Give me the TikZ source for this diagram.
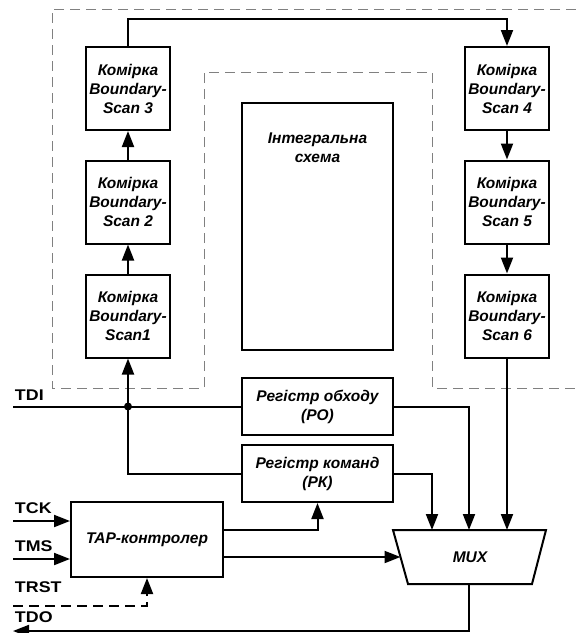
\documentclass[tikz,border=0pt]{standalone}
\usepackage{fontspec}
\setmainfont{Liberation Sans}
\newfontfamily\lblfont[FakeStretch=1.15]{Liberation Sans}
\usetikzlibrary{arrows.meta}
\begin{document}
\begin{tikzpicture}[x=1pt,y=-1pt, line width=2pt,
 box/.style={draw, line width=2pt, align=center, inner sep=0pt, font=\bfseries\itshape\fontsize{15.5}{19}\selectfont},
 txt/.style={align=center, inner sep=0pt, font=\bfseries\itshape\fontsize{15.5}{19}\selectfont},
 arr/.style={-{Triangle[length=16pt,width=12pt]}},
 lbl/.style={font=\lblfont\bfseries\fontsize{15.5}{16}\selectfont, inner sep=0pt, anchor=base west},
 chip/.style={dash pattern=on 10pt off 6pt, gray, line width=1pt}]
\useasboundingbox (0,0) rectangle (576,633);
% chip boundary
\draw[chip] (576,9) -- (52,9) -- (52,388) -- (204,388) -- (204,72) -- (432,72) -- (432,388) -- (576,388);
% cells
\node[box, minimum width=84pt, minimum height=83pt] (c3) at (128,88.5) {Комірка\\Boundary-\\Scan 3};
\node[box, minimum width=84pt, minimum height=83pt] (c2) at (128,202) {Комірка\\Boundary-\\Scan 2};
\node[box, minimum width=84pt, minimum height=83pt] (c1) at (128,316) {Комірка\\Boundary-\\Scan1};
\node[box, minimum width=84pt, minimum height=83pt] (c4) at (507,88.5) {Комірка\\Boundary-\\Scan 4};
\node[box, minimum width=84pt, minimum height=83pt] (c5) at (507,202) {Комірка\\Boundary-\\Scan 5};
\node[box, minimum width=84pt, minimum height=83pt] (c6) at (507,316) {Комірка\\Boundary-\\Scan 6};
% integrated circuit
\node[box, minimum width=151pt, minimum height=247pt] (ic) at (317.5,226.5) {};
\node[txt] (ictext) at (317.5,148) {Інтегральна\\схема};
% registers
\node[box, minimum width=151pt, minimum height=57pt] (po) at (317.5,406.5) {Регістр обходу\\(РО)};
\node[box, minimum width=151pt, minimum height=57pt] (rk) at (317.5,473.5) {Регістр команд\\(РК)};
\node[box, minimum width=152pt, minimum height=75pt] (tap) at (147,539.5) {TAP-контролер};
% MUX
\draw[line width=2pt] (393,530) coordinate (mTL) -- (546,530) coordinate (mTR) -- (532,584) coordinate (mBR) -- (408,584) coordinate (mBL) -- cycle;
\node[txt] (mux) at (470,557) {MUX};
\coordinate (m1) at (432,530);
\coordinate (m2) at (469,530);
\coordinate (m3) at (507,530);
\coordinate (mL) at (400.5,557);
\coordinate (mB) at (469,584);
% chain
\draw[arr] (c1.north) -- (c2.south);
\draw[arr] (c2.north) -- (c3.south);
\draw[arr] (c3.north) -- ++(0,-27) -| (c4.north);
\draw[arr] (c4.south) -- (c5.north);
\draw[arr] (c5.south) -- (c6.north);
\draw[arr] (c6.south) -- (m3);
% TDI
\coordinate (tdi) at (13,406.5);
\coordinate (dot) at (128,406.5);
\draw (tdi) -- (po.west);
\fill (dot) circle (4pt);
\draw[arr] (dot) -- (c1.south);
\draw (dot) |- (rk.west);
\draw[arr] (po.east) -| (m2);
\draw[arr] (rk.east) -| (m1);
% TAP
\coordinate (t1) at (tap.east |- 0,530);
\coordinate (t2) at (tap.east |- 0,557);
\draw[arr] (t1) -| (rk.south);
\draw[arr] (t2) -- (mL);
\coordinate (tck) at (13,521);
\coordinate (tms) at (13,559);
\coordinate (trst) at (13,606);
\coordinate (tdo) at (13,631);
\draw[arr] (tck) -- (tap.west |- tck);
\draw[arr] (tms) -- (tap.west |- tms);
\draw[arr, dash pattern=on 10pt off 6pt] (trst) -| (tap.south);
\draw[arr] (mB) |- (tdo);
% labels
\node[lbl] (ltdi) at (14,400) {TDI};
\node[lbl] (ltck) at (14,513) {TCK};
\node[lbl] (ltms) at (14,551) {TMS};
\node[lbl] (ltrst) at (14,592) {TRST};
\node[lbl] (ltdo) at (14,622) {TDO};
\end{tikzpicture}
\end{document}
